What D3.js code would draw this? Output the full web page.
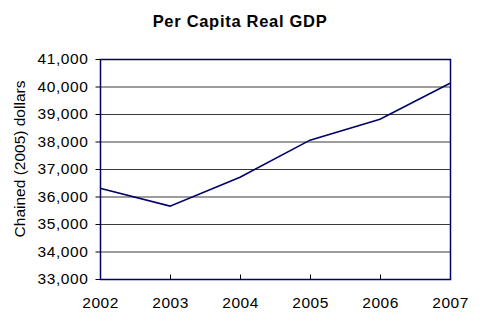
<!DOCTYPE html>
<html><head><meta charset="utf-8">
<script src="https://cdn.jsdelivr.net/npm/d3@7"></script>
<style>body{margin:0;background:#fff}svg{display:block}</style>
</head><body>
<script>
const years = ["2002","2003","2004","2005","2006","2007"];
const gdp = [36300, 35650, 36700, 38050, 38810, 40120];
const yTicks = [33000,34000,35000,36000,37000,38000,39000,40000,41000];
const title = "Per Capita Real GDP";
const yTitle = "Chained (2005) dollars";

const W=480,H=322, L=100,R=450,T=59,B=279;
const FF="'Liberation Sans', Arial, sans-serif";
const svg=d3.select("body").append("svg").attr("width",W).attr("height",H)
  .style("font-family",FF);
const x=d3.scalePoint().domain(years).range([L,R]);
const y=d3.scaleLinear().domain([33000,41000]).range([B,T]);

svg.append("text").attr("x",240).attr("y",27).attr("text-anchor","middle")
  .attr("font-size",16.5).attr("font-weight","bold").attr("letter-spacing",0.7).text(title);

// gridlines
svg.append("g").selectAll("line").data(yTicks.slice(1,-1)).join("line")
  .attr("x1",L).attr("x2",R).attr("y1",d=>y(d)+0.5).attr("y2",d=>y(d)+0.5)
  .attr("stroke","#3a3a3a").attr("stroke-width",1);

// y axis
const ya=svg.append("g").attr("transform",`translate(${L+0.5},0)`)
  .call(d3.axisLeft(y).tickValues(yTicks).tickFormat(d3.format(",")).tickSize(5).tickPadding(7));
ya.select(".domain").remove();
ya.selectAll(".tick line").attr("stroke","#000");
ya.selectAll("text").attr("font-size",15.5).attr("letter-spacing",0.6).attr("fill","#000").attr("font-family",FF);

// x axis
const xa=svg.append("g").attr("transform",`translate(0,${B+0.5})`)
  .call(d3.axisBottom(x).tickSize(-5).tickPadding(17));
xa.select(".domain").remove();
xa.selectAll(".tick line").attr("stroke","#000");
xa.selectAll("text").attr("font-size",15.5).attr("letter-spacing",0.5).attr("fill","#000").attr("font-family",FF);

// frame
svg.append("rect").attr("x",L+0.5).attr("y",T+0.5).attr("width",R-L).attr("height",B-T)
  .attr("fill","none").attr("stroke","#000066").attr("stroke-width",1.5);

// line
svg.append("path").datum(gdp.map((v,i)=>[years[i],v]))
  .attr("d",d3.line().x(d=>x(d[0])).y(d=>y(d[1])))
  .attr("fill","none").attr("stroke","#000066").attr("stroke-width",1.6);

svg.append("text").attr("transform",`translate(25,159) rotate(-90)`)
  .attr("text-anchor","middle").attr("font-size",15.5).text(yTitle);
</script>
</body></html>
